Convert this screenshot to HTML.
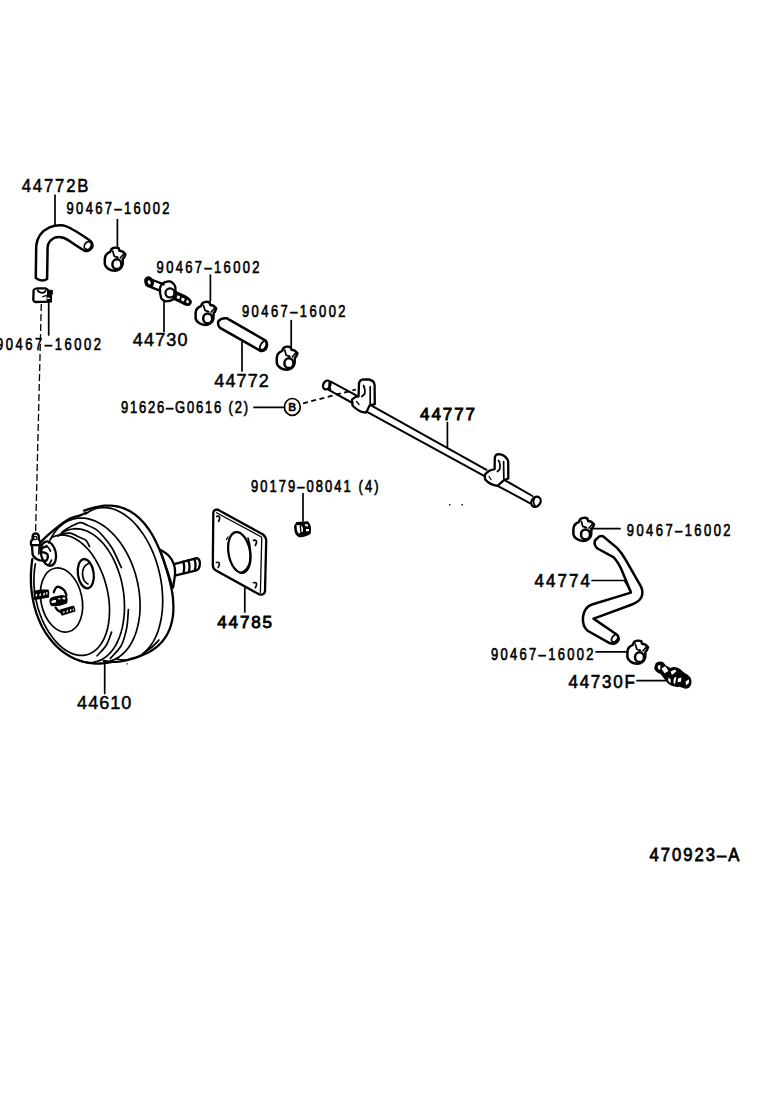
<!DOCTYPE html>
<html><head><meta charset="utf-8"><style>
html,body{margin:0;padding:0;background:#fff;width:760px;height:1112px;overflow:hidden}
svg{display:block}
text{font-family:"Liberation Sans",sans-serif;fill:#000;stroke:#000;stroke-width:0.7}
.l{fill:none;stroke:#000;stroke-width:1.7;stroke-linecap:round;stroke-linejoin:round}
.t{fill:none;stroke:#000;stroke-width:2.3;stroke-linecap:round;stroke-linejoin:round}
.n{fill:none;stroke:#000;stroke-width:1.3;stroke-linecap:round;stroke-linejoin:round}
.d{fill:none;stroke:#000;stroke-width:1.3;stroke-dasharray:7 3}
</style></head><body>
<svg width="760" height="1112" viewBox="0 0 760 1112">
<g id="labels">
<text transform="matrix(0.880,0,0,1,21.7,191.7)" font-size="19.0" textLength="75.9" lengthAdjust="spacing" style="stroke-width:0.55">44772B</text>
<text transform="matrix(0.800,0,0,1,66.5,214.4)" font-size="16.2" textLength="128.8" lengthAdjust="spacing" style="stroke-width:0.65">90467–16002</text>
<text transform="matrix(0.800,0,0,1,156.6,273.4)" font-size="16.2" textLength="128.6" lengthAdjust="spacing" style="stroke-width:0.65">90467–16002</text>
<text transform="matrix(0.800,0,0,1,242.0,317.4)" font-size="16.2" textLength="129.4" lengthAdjust="spacing" style="stroke-width:0.65">90467–16002</text>
<text transform="matrix(0.800,0,0,1,-4.0,349.5)" font-size="16.2" textLength="131.2" lengthAdjust="spacing" style="stroke-width:0.65">90467–16002</text>
<text transform="matrix(0.950,0,0,1,132.8,346.0)" font-size="19.0" textLength="57.6" lengthAdjust="spacing" style="stroke-width:0.50">44730</text>
<text transform="matrix(0.950,0,0,1,214.3,386.8)" font-size="19.0" textLength="57.4" lengthAdjust="spacing" style="stroke-width:0.50">44772</text>
<text transform="matrix(0.800,0,0,1,120.9,413.3)" font-size="16.2" textLength="158.9" lengthAdjust="spacing" style="stroke-width:0.65">91626–G0616 (2)</text>
<text transform="matrix(1.000,0,0,1,420.0,419.8)" font-size="17.0" textLength="55.0" lengthAdjust="spacing" style="stroke-width:0.90">44777</text>
<text transform="matrix(0.800,0,0,1,250.9,492.0)" font-size="16.2" textLength="159.5" lengthAdjust="spacing" style="stroke-width:0.65">90179–08041 (4)</text>
<text transform="matrix(0.800,0,0,1,626.8,536.3)" font-size="16.2" textLength="129.6" lengthAdjust="spacing" style="stroke-width:0.65">90467–16002</text>
<text transform="matrix(0.920,0,0,1,534.5,587.3)" font-size="18.5" textLength="60.3" lengthAdjust="spacing" style="stroke-width:0.65">44774</text>
<text transform="matrix(0.800,0,0,1,491.0,660.3)" font-size="16.2" textLength="128.1" lengthAdjust="spacing" style="stroke-width:0.65">90467–16002</text>
<text transform="matrix(0.920,0,0,1,568.4,688.0)" font-size="18.5" textLength="72.4" lengthAdjust="spacing" style="stroke-width:0.65">44730F</text>
<text transform="matrix(1.000,0,0,1,217.3,628.3)" font-size="17.0" textLength="54.7" lengthAdjust="spacing" style="stroke-width:0.90">44785</text>
<text transform="matrix(0.950,0,0,1,77.1,708.6)" font-size="19.0" textLength="57.1" lengthAdjust="spacing" style="stroke-width:0.50">44610</text>
<text transform="matrix(0.950,0,0,1,649.5,861.3)" font-size="17.5" textLength="94.5" lengthAdjust="spacing" style="stroke-width:0.75">470923–A</text>
</g>
<g class="l">
<path d="M55,195 V225"/>
<path d="M117.4,219.5 V246.6"/>
<path d="M210.4,275 V301"/>
<path d="M291.2,320.5 V346"/>
<path d="M48.7,302 V335"/>
<path d="M164,301.6 V331.4"/>
<path d="M242,342 V371"/>
<path d="M254,407.4 H284.5"/>
<path d="M447.4,422.6 V447"/>
<path d="M303,493.7 V521"/>
<path d="M591,528.7 H620"/>
<path d="M592,580.5 H624.5 L631,592"/>
<path d="M596,651.8 H627.5"/>
<path d="M637,680.7 H666"/>
<path d="M244.8,588 V612"/>
<path d="M104.7,662 V693.4"/>
</g>
<defs><g id="clip">
<path class="t" style="stroke-width:2.5" d="M0.8,12.5 C0.8,8.6 3,6.4 6.2,5.2 L7.4,2.6 C9.2,1 12.6,0.6 14.6,1.6 L15.6,4.2 L18.8,5 L21.4,7.6 L20.2,10.8 L18.8,12.4 L18.6,18 C17.8,21.8 14.4,24.2 10.6,24.2 C6.2,24 1.4,21.4 0.8,17.4 Z"/>
<ellipse class="t" style="stroke-width:2.5" cx="12.9" cy="17.6" rx="4.5" ry="4.9"/>
<path class="l" d="M8.8,4.6 L10.2,9.6 L13.8,10.8"/>
<path class="l" d="M16.4,11.2 L19.8,7.4"/>
</g></defs>
<use href="#clip" transform="translate(104.0,246.6)"/>
<use href="#clip" transform="translate(194.8,300.8)"/>
<use href="#clip" transform="translate(276.0,345.6)"/>
<use href="#clip" transform="translate(572.6,516.8)"/>
<use href="#clip" transform="translate(626.6,639.6)"/>
<path class="t" d="M33.6,290.2 Q34.5,288.5 37.5,288.4 L45,288.4 Q47.8,288.8 48.2,291 L48.3,301.6 L35.2,302 Q33.4,301.6 33.3,299.2 Z"/>
<path class="l" d="M37.6,290 Q38.5,292.6 42,292.8 Q45,292.8 45.6,290.5"/>
<path class="n" d="M42.8,296.8 Q44.5,295.6 48,295.6"/>
<rect x="47.2" y="289.8" width="5.6" height="5" fill="#000"/><rect x="46.6" y="294.5" width="5.4" height="8" fill="#000"/>
<rect x="47.2" y="297.6" width="2.6" height="1.4" fill="#fff"/>
<rect x="126.5" y="663.3" width="1.2" height="1.2" fill="#000"/>
<path class="d" d="M41.3,304 L35.6,532"/>
<path class="t" style="stroke-width:2.5" d="M35.8,278 L36.2,246 Q37.5,233 49,227.6 Q56,224.6 64,225.6 Q70,227 88.2,239.2 Q93.5,242.5 92.2,247.2 Q89.5,252 84.5,250.8 Q75,245 69.2,240.8 Q62,235.5 55,237.5 Q48,241 47.6,247 L47.1,279 Q42,282.5 35.8,278 Z"/>
<ellipse class="l" cx="87.8" cy="245.6" rx="3.2" ry="4.2" transform="rotate(35 87.8 245.6)"/>
<path class="t" d="M152.6,280 L163.8,284.4 M150.8,287.2 L160,290.6"/>
<path fill="#000" d="M144.3,279 Q146,275.8 148.5,276.2 Q152.5,277 154,281.2 Q154.6,285.5 151.5,287.8 Q147.5,288.5 145.2,285.2 Q143.6,282 144.3,279 Z"/>
<ellipse cx="149.2" cy="282.3" rx="1.4" ry="2.2" fill="#fff" transform="rotate(-20 149.2 282.3)"/>
<path class="t" d="M159.9,288.2 Q161.5,283.5 164.5,282.3 Q168,281 170.5,281.5 Q174.5,283.5 175.4,287.5 L175.5,293.7 Q175,298 173.1,299.4 Q170,301.3 166,301.3 Q162.5,300.6 161.2,298.2 Q159.6,293 159.9,288.2 Z"/>
<circle class="t" cx="170" cy="292.9" r="4.5"/>
<path fill="#000" d="M175.2,290.6 L186,295.5 Q190.5,298 191.8,300.8 Q192.3,304 189.5,305.8 Q186.5,306.6 184,305 L172.2,299.2 Z"/>
<path fill="#fff" d="M177.5,295.3 L180.2,296.6 L179.2,299.2 L176.5,297.9 Z M182,297.5 L184.8,298.8 L183.8,301.5 L181,300.2 Z M186.8,299.8 L189,301 L188.3,303.4 L186,302.3 Z"/>
<path class="t" style="stroke-width:2.5" d="M227,318.3 L265.6,340.6 Q268.5,344 265.6,349.3 Q262.5,352 259.6,350.3 L220,327.8 Q217.2,325 218.4,321.2 Q221,317.6 227,318.3 Z"/>
<ellipse class="l" cx="263.2" cy="345.5" rx="2.6" ry="4.6" transform="rotate(30 263.2 345.5)"/>
<ellipse class="l" cx="292.3" cy="406.9" rx="7.9" ry="8.4"/>
<text x="292.3" y="410.8" font-size="11" font-weight="bold" text-anchor="middle" style="stroke-width:0.3">B</text>
<path class="d" d="M303,403.3 L356,389.5" style="stroke-dasharray:5 3.5;stroke-width:1.8"/>
<ellipse class="t" cx="326.8" cy="384.9" rx="3.4" ry="4.6" transform="rotate(30 326.8 384.9)"/>
<path class="l" d="M329.8,382 Q328,385.5 330.5,389"/>
<path class="l" style="stroke-width:2" d="M331.2,381.8 L358.5,396.6 M327.8,389.4 L352.5,403"/>
<path class="l" style="stroke-width:2" d="M371.5,405.6 L486.5,469.8 M367.5,412.2 L485,476.3"/>
<path class="l" style="stroke-width:2" d="M505.5,480.6 L532.5,496 M497.5,485.8 L530.2,503.3"/>
<ellipse class="t" cx="536" cy="501.8" rx="4.3" ry="5.4" transform="rotate(35 536 501.8)"/>
<path class="l" d="M534.8,497.6 Q532,502 535.2,506"/>
<path class="t" d="M352,399.5 Q355,396.5 358.6,395.8 L359,383.5 Q359.6,379.6 363.5,379.3 L369,379.5 Q374.2,380.6 374.6,385 L374.8,404.2 L369.6,405.4 L366.2,412.5 Q359,412.5 352.5,405.5 Z"/>
<path class="l" d="M370.2,386.7 L370.2,404.4"/>
<path class="l" d="M363.5,385.5 Q365.5,389 364.6,394 L361.8,396.5"/>
<path class="n" d="M356.5,401.5 L359,404.5"/>
<path class="t" d="M485,474.5 Q489,470 494.6,469.2 L494.8,457.6 Q495.4,454.2 498.6,454.2 L501.5,454.6 Q506.8,456.5 508.2,461.5 L508.3,478.4 L503.6,480.4 L497.6,485.8 Q490,485.2 485,479.2 Z"/>
<path class="l" d="M503.6,461.5 L503.8,478.2"/>
<path class="l" d="M498.5,460.5 Q500.8,463.5 499.6,469.5 L497.4,471.5"/>
<path class="n" d="M489,476.5 L491,479.5"/>
<rect x="449" y="504" width="1.4" height="1.4" fill="#000"/><rect x="461.5" y="504" width="1.4" height="1.4" fill="#000"/>
<path fill="#000" d="M296.5,522 L308,521.2 Q311,524 311,528 L310.8,533.5 Q306,537.5 299,537.3 Q295,535 294.5,531 L294,526 Z"/>
<path fill="#fff" d="M296.5,525.2 L299.5,525 L300.3,533 L298.2,533.5 Q296.5,530 296.5,525.2 Z M301,525 L303,528 L302.8,532 L301.5,532 Z M305,524 L308,524.5 L308,526.5 L305.2,526 Z M306,529 L309,529 L309,531 L306,531.5 Z"/>
<path class="t" d="M213.3,513 Q213.5,509.5 217.5,509.5 L263,534.5 Q266.3,537 266.2,541 L265,591.5 Q264,595.5 259.5,594.5 L216,570.5 Q212.8,568.5 212.8,565 Z"/>
<path class="n" d="M216.5,512.8 L261.5,537 Q261.8,538.5 261.7,540 L260.4,592.5"/>
<ellipse class="t" cx="239.3" cy="552.5" rx="10.8" ry="20.6" transform="rotate(-10 239.3 552.5)"/>
<path class="l" d="M248,538 Q252,550 249.5,563 Q246.5,571.5 240,573" />
<path class="n" d="M228,537 L226.5,539.5"/>
<path class="l" d="M216.8,516.4 Q220.3,515.4 219.6,518.9 L218.6,521.4"/>
<path class="l" d="M253.6,540.4 Q257.1,539.4 256.4,542.9 L255.4,545.4"/>
<path class="l" d="M216.4,562.5 Q219.9,561.5 219.2,565.0 L218.2,567.5"/>
<path class="l" d="M253.6,582.7 Q257.1,581.7 256.4,585.2 L255.4,587.7"/>
<path class="t" d="M84.1,510.6 L88.7,509.1 L92.1,508.1 L94.9,507.3 L97.5,506.8 L100.0,506.3 L102.4,505.9 L104.6,505.7 L106.9,505.6 L109.0,505.6 L111.2,505.6 L113.2,505.8 L115.3,506.1 L117.3,506.5 L119.3,506.9 L121.2,507.5 L123.2,508.1 L125.1,508.9 L126.9,509.7 L128.7,510.6 L130.5,511.6 L132.3,512.7 L134.1,513.9 L135.8,515.2 L137.5,516.6 L139.1,518.0 L140.7,519.6 L142.3,521.2 L143.9,523.0 L145.4,524.8 L146.9,526.7 L148.4,528.7 L149.8,530.8 L151.2,533.0 L152.6,535.3 L153.9,537.7 L155.2,540.2 L156.5,542.9 L157.8,545.7 L159.1,548.6 L160.3,551.7 L161.6,555.0 L162.9,558.7 L164.4,563.1 L166.4,569.4 L167.7,573.7 L168.8,577.5 L169.7,580.9 L170.5,584.2 L171.2,587.3 L171.8,590.3 L172.3,593.2 L172.7,596.0 L173.0,598.8 L173.2,601.4 L173.3,604.0 L173.4,606.6 L173.4,609.1 L173.3,611.5 L173.1,613.9 L172.9,616.2 L172.5,618.4 L172.1,620.6 L171.6,622.8 L171.0,624.9 L170.4,626.9 L169.7,628.9 L168.9,630.8 L168.0,632.7 L167.1,634.5 L166.0,636.3 L164.9,638.0 L163.7,639.6 L162.5,641.2 L161.1,642.8 L159.7,644.2 L158.2,645.6 L156.6,647.0 L154.9,648.3 L153.2,649.5 L151.3,650.7 L149.3,651.9 L147.2,653.0 L144.9,654.0 L142.4,655.1 L139.7,656.1 L136.3,657.3 L131.7,658.7 L128.6,659.6 L125.9,660.3 L123.4,660.9 L120.9,661.3 L118.6,661.6 L116.4,661.8 L114.2,661.8 L112.0,661.8 L109.9,661.7 L107.8,661.5 L105.8,661.2 L103.8,660.8"/>
<path class="t" d="M32.4,559.0 L31.9,562.0 L31.6,565.0 L31.3,568.0 L31.1,571.0 L30.9,574.0 L30.9,577.0 L30.9,580.0 L31.0,583.0 L31.1,585.9 L31.4,588.9 L31.7,591.8 L32.1,594.7 L32.5,597.6 L33.1,600.4 L33.7,603.3 L34.3,606.0 L35.1,608.8 L35.9,611.5 L36.7,614.1 L37.7,616.7 L38.7,619.3 L39.8,621.8 L40.9,624.3 L42.1,626.7 L43.4,629.0 L44.7,631.3 L46.1,633.5 L47.6,635.7 L49.1,637.8 L50.7,639.8 L52.3,641.8 L54.0,643.6 L55.7,645.4 L57.5,647.2 L59.3,648.8 L61.1,650.4 L63.1,651.9 L65.0,653.3 L67.0,654.6 L69.0,655.8 L71.1,657.0 L73.2,658.0 L75.3,659.0 L77.5,659.9 L79.7,660.7 L81.9,661.3 L84.1,662.0 L86.4,662.5 L88.7,662.9 L91.0,663.2 L93.3,663.4 L95.6,663.6 L97.9,663.6 L100.3,663.5 L102.6,663.4 L104.9,663.1 L107.3,662.8 L109.6,662.4 L112.0,661.8"/>
<path class="t" d="M40.0,542.7 C41.5,541.3 45.7,537.1 49.0,534.2 C52.3,531.3 56.5,527.8 60.0,525.2 C63.5,522.6 66.7,520.2 70.0,518.6 C73.3,517.0 77.3,516.4 80.0,515.4 C82.7,514.4 85.0,513.1 86.0,512.6"/>
<path class="t" d="M160.0,549.6 C161.4,550.6 166.3,553.1 168.6,555.5 C170.9,557.9 172.7,561.2 173.8,564.1 C174.9,567.0 175.2,568.8 175.1,572.6 C175.0,576.4 173.5,584.7 173.2,587.1"/>
<path class="l" d="M161.3,552.9 C162.1,555.1 164.5,561.8 165.9,566.0 C167.3,570.2 168.8,574.2 169.9,577.9 C171.1,581.6 172.3,586.3 172.8,588.0"/>
<path class="l" d="M85.6,514.0 L88.1,512.2 L90.7,510.7 L93.4,509.5 L96.2,508.5 L99.0,507.9 L102.0,507.6 L104.9,507.5 L107.9,507.8 L111.0,508.4 L114.0,509.3 L117.1,510.5 L120.1,512.0 L123.2,513.7 L126.1,515.8 L129.1,518.1 L132.0,520.7 L134.8,523.5 L137.5,526.6 L140.1,529.9 L142.7,533.4 L145.1,537.1 L147.4,541.1 L149.6,545.1 L151.6,549.4 L153.5,553.7 L155.2,558.2 L156.7,562.8 L158.1,567.5 L159.3,572.3 L160.4,577.1 L161.2,581.9 L161.9,586.7 L162.3,591.5 L162.6,596.3 L162.7,601.0 L162.6,605.7 L162.3,610.3 L161.8,614.7 L161.1,619.1 L160.2,623.3 L159.2,627.3 L158.0,631.2 L156.6,634.9 L155.0,638.4 L153.2,641.6 L151.3,644.6 L149.3,647.4 L147.1,649.9 L144.8,652.2 L142.4,654.2 L139.8,655.9 L137.2,657.3 L134.4,658.4 L131.6,659.2 L128.7,659.7 L125.8,660.0 L122.8,659.9 L119.8,659.5 L116.7,658.8"/>
<path class="l" d="M48.7,542.9 L50.3,539.5 L52.1,536.3 L54.0,533.3 L56.1,530.5 L58.3,528.0 L60.6,525.8 L63.1,523.8 L65.7,522.1 L68.5,520.7 L71.3,519.6 L74.2,518.8 L77.1,518.2 L80.2,518.0 L83.2,518.1 L86.3,518.4 L89.5,519.1 L92.6,520.1 L95.7,521.3 L98.9,522.9 L101.9,524.7 L105.0,526.8 L108.0,529.1 L110.9,531.8 L113.7,534.6 L116.5,537.7 L119.1,541.0 L121.6,544.5 L124.0,548.2 L126.3,552.1 L128.4,556.1 L130.4,560.3 L132.2,564.6 L133.8,569.0 L135.3,573.5 L136.5,578.1 L137.6,582.7 L138.5,587.3 L139.2,592.0 L139.7,596.6 L140.0,601.3 L140.1,605.8 L140.0,610.3 L139.7,614.8 L139.1,619.1 L138.4,623.3 L137.5,627.3 L136.4,631.3 L135.1,635.0 L133.7,638.5 L132.0,641.9 L130.2,645.0 L128.2,647.9 L126.1,650.6 L123.8,653.0 L121.4,655.1 L118.9,657.0 L116.2,658.6 L113.5,659.9 L110.6,660.9"/>
<path class="l" d="M58.1,536.2 L60.3,534.3 L62.6,532.7 L65.0,531.3 L67.5,530.3 L70.0,529.5 L72.6,529.0 L75.3,528.7 L78.0,528.8 L80.7,529.2 L83.4,529.8 L86.1,530.7 L88.8,531.9 L91.5,533.4 L94.1,535.1 L96.7,537.1 L99.2,539.3 L101.7,541.8 L104.1,544.5 L106.3,547.5 L108.5,550.6 L110.6,553.9 L112.6,557.4 L114.4,561.1 L116.1,564.9 L117.7,568.9 L119.1,572.9 L120.4,577.1 L121.5,581.3 L122.4,585.6 L123.2,590.0 L123.8,594.4 L124.2,598.7 L124.4,603.1 L124.5,607.4 L124.4,611.7 L124.1,615.9 L123.6,620.0 L123.0,624.0 L122.2,627.9 L121.2,631.7 L120.1,635.3 L118.8,638.7 L117.4,642.0 L115.8,645.0 L114.0,647.9 L112.2,650.5 L110.2,652.9 L108.1,655.0 L105.8,656.9 L103.5,658.5 L101.1,659.9 L98.6,660.9 L96.1,661.7 L93.5,662.3 L90.9,662.5 L88.2,662.4 L85.5,662.1 L82.8,661.5 L80.1,660.6"/>
<path class="l" d="M51.4,537.8 L54.5,536.3 L57.7,535.4 L61.1,535.0 L64.6,535.1 L68.1,535.8 L71.7,537.0 L75.2,538.7 L78.8,540.9 L82.2,543.6 L85.6,546.7 L88.9,550.3 L92.0,554.3 L94.9,558.7 L97.6,563.4 L100.1,568.3 L102.3,573.5 L104.3,578.9 L105.9,584.4 L107.3,590.1 L108.4,595.8 L109.1,601.4 L109.5,607.1 L109.5,612.6 L109.2,617.9 L108.6,623.1 L107.7,628.0 L106.4,632.6 L104.8,636.9 L103.0,640.8 L100.8,644.3 L98.4,647.4 L95.8,650.0 L92.9,652.1 L89.9,653.7 L86.7,654.8 L83.3,655.4 L79.9,655.4 L76.4,654.9 L72.8,653.9 L69.2,652.3 L65.7,650.3 L62.2,647.7 L58.8,644.7 L55.5,641.2 L52.4,637.3 L49.4,633.1 L46.6,628.5 L44.0,623.6 L41.7,618.5 L39.7,613.2 L37.9,607.7 L36.5,602.0 L35.3,596.4 L34.5,590.7 L34.0,585.1 L33.9,579.5 L34.1,574.1 L34.6,568.9 L35.4,563.9"/>
<path class="l" d="M62.0,532.0 C63.3,531.2 67.0,528.6 70.0,527.0 C73.0,525.4 77.3,523.0 80.0,522.6 C82.7,522.2 83.3,523.5 86.0,524.6 C88.7,525.7 93.2,527.5 96.0,529.4 C98.8,531.3 100.3,533.0 103.0,536.1 C105.7,539.2 108.9,542.8 112.0,548.0 C115.1,553.2 119.8,564.3 121.4,567.6"/>
<path class="l" d="M60.0,534.5 C61.7,534.3 66.7,532.7 70.0,533.2 C73.3,533.7 77.3,536.3 80.0,537.5 C82.7,538.7 84.4,538.8 86.0,540.3 C87.6,541.8 88.9,545.5 89.5,546.5"/>
<path class="l" d="M128.4,609.7 C128.2,611.8 127.9,618.3 127.5,622.0 C127.1,625.7 126.9,628.1 125.8,632.1 C124.7,636.1 123.6,641.6 121.0,646.0 C118.4,650.4 112.1,656.3 110.3,658.4"/>
<path class="l" d="M111.6,632.1 C110.7,634.3 108.7,641.3 106.3,645.3 C103.9,649.2 98.6,654.0 97.1,655.8"/>
<path class="l" d="M159.0,640.0 C157.8,641.2 154.6,644.8 152.0,647.0 C149.4,649.2 144.7,652.2 143.2,653.2"/>
<ellipse class="l" cx="61.5" cy="600" rx="20.5" ry="32.5" transform="rotate(-12 61.5 600)"/>
<ellipse class="t" cx="85.8" cy="573.7" rx="7.9" ry="14.7" transform="rotate(-8 85.8 573.7)"/>
<path class="l" d="M88.5,563.5 Q82.5,566 82.5,574 Q83,582 88,584"/>
<ellipse class="t" cx="48.4" cy="553.6" rx="7.4" ry="12.3" transform="rotate(-12 48.4 553.6)"/>
<path class="l" d="M46.5,545.5 Q49,548 50.5,551 M51.5,560 Q50.5,563 48.5,565"/>
<path class="t" d="M32,545.8 L32.6,554.5 Q34.5,559 40,560.4 L46,560.8 Q48.8,558.5 47.4,554.2 Q45,552.2 41.5,552.2 Q40.2,549.2 43.8,547.2 L46.5,546.6"/>
<path class="l" d="M39.2,546.2 L38.8,554"/>
<path class="t" d="M31,545.2 L30.9,542 Q31,540.2 32.6,539.8 L32.6,536.2 Q33.2,533.4 35.6,533.4 Q38.4,533.6 38.8,536.2 L38.8,539.8 Q40.2,540.2 40.2,542 L40,545.2 Z"/>
<circle cx="35.3" cy="538" r="1.7" class="n"/>
<path d="M33.5,543.2 H37.5" stroke="#fff" stroke-width="1"/>
<path fill="#000" d="M33.4,590.8 L41.5,589.6 L48.6,589.4 Q49.8,592.5 49,597.4 L41,599 L34.2,600 Z"/>
<path fill="#fff" d="M35.6,594.5 L37,593.8 L37.2,596.2 L35.8,596.8 Z M39.4,594 L41,593.2 L40.8,595.8 L39.6,596.2 Z M43.4,593.2 L45,592.6 L44.6,595.2 L43.2,595.6 Z M46.2,592.2 L47.6,592 L47.2,594.6 L46,594.8 Z"/>
<path fill="#000" d="M49.6,599 Q50.5,597 54,596.4 L62,595 L67,596 Q68.4,600 67,603.6 L60,605.8 L51.6,606.2 Q49,604.5 49.6,599 Z"/>
<path fill="#fff" d="M51.4,601.2 Q53,599.6 56,600 L55.8,602.6 Q53,603.2 51.4,602.8 Z M58.2,598.2 L60.4,598 L60.4,599.2 L58.2,599.4 Z M62.4,597.6 L65.4,597.4 L65,599.6 L62.6,599.2 Z"/>
<path class="t" d="M53.8,592.2 Q55.5,586.8 58,586.6 Q61,587 64.8,590.8 L66.4,595"/>
<path class="t" d="M55.6,607.5 Q57,610.5 60,611.8"/>
<path fill="#000" d="M60,609.6 L73.6,605.6 Q75.6,607.5 75.4,611.6 L61.8,615.8 Q59.6,613.5 60,609.6 Z"/>
<path fill="#fff" d="M63.2,611.6 L64.6,611 L64.4,613 L63.2,613.4 Z M66.6,610.6 L68,610 L67.8,612 L66.6,612.4 Z M70,609.6 L71.4,609 L71.2,611 L70,611.4 Z M72.8,608.8 L74,608.4 L73.8,610.2 L72.8,610.6 Z"/>
<path class="t" d="M174.1,564.1 L196.8,558.2 Q200.5,559.5 199.8,565 Q199.5,569 196.5,570.3 L175.8,575.3"/>
<path class="t" d="M183,561.6 Q185,566 183.6,572.8 M188.3,560.2 Q190.3,565 189,571.6 M194.2,558.8 Q196.5,564 194.8,570.5"/>
<path class="t" style="stroke-width:2.5" d="M597,538.5 Q599.5,535.2 603,536.3 L617,547.9 Q622,553 626.3,560.8 L641,586.6 Q643.5,592 641.5,597 Q639,602 632,604.5 L598.5,616.8 L593.5,618.6 L613.4,632.3 Q619.5,635 618.5,640 Q616,645 610,643.3 L588,631 Q582,626 583,616.8 Q584.5,607 592,604.5 L630.9,592.6 L630,590 L620.8,568.1 Q617,560.5 613.4,557.1 L597.5,548.5 Q593.5,545 595,540.5 Z"/>
<ellipse class="l" cx="614.8" cy="638.3" rx="2.6" ry="4.2" transform="rotate(35 614.8 638.3)"/>
<path fill="#000" d="M655.5,663.5 Q658.5,660.5 663,662 L666,665.5 L670.5,668 Q675,665.5 680,669 L684,672.5 Q687,674 690.5,677.5 Q692.5,682 690.5,686 Q688.5,689.5 684.5,688.5 L679.5,686.8 Q674,688 668.5,684 L665.5,680.5 Q663,677 660.5,674 Q655,672 654.2,668 Z"/>
<path fill="#fff" d="M657.6,666.6 Q658.6,664.6 660.4,665 L660.2,669.6 Q658,670.4 657.6,666.6 Z M661.4,668.4 L665.4,666.2 L668.4,671 L664.6,673.2 Z M670.6,671.6 L675,669.4 L676.4,671.2 L672,675 Z M668.4,677.4 L670.8,679.6 L670.4,683.4 L668.2,680.6 Z M674,678 L676.4,676.8 L675,684.4 L673.4,682.6 Z M678,678.6 L681.4,677.6 L681,681.4 L677.6,682.2 Z M685.6,681.6 L688.8,679.4 L689.2,682.6 L686,685.6 Z"/>
</svg>
</body></html>
